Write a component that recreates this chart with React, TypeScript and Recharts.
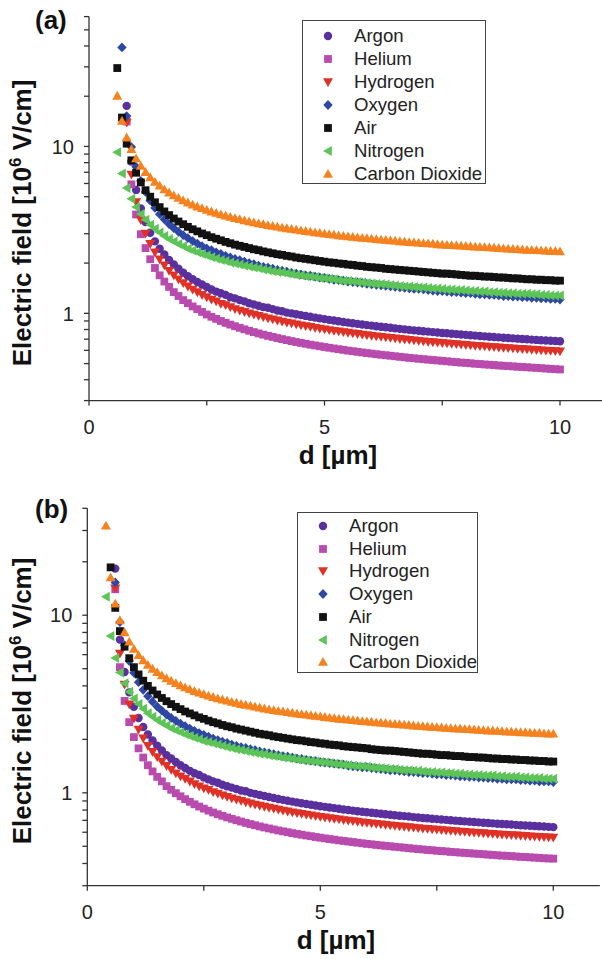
import { ScatterChart, Scatter, XAxis, YAxis, Label } from "recharts";

// gap distances d [µm]
const dGrid = [
  0.4, 0.5, 0.6, 0.7, 0.8, 0.9,
  1.0, 1.1, 1.2, 1.3, 1.4, 1.5, 1.6, 1.7, 1.8, 1.9,
  2.0, 2.1, 2.2, 2.3, 2.4, 2.5, 2.6, 2.7, 2.8, 2.9,
  3.0, 3.1, 3.2, 3.3, 3.4, 3.5, 3.6, 3.7, 3.8, 3.9,
  4.0, 4.1, 4.2, 4.3, 4.4, 4.5, 4.6, 4.7, 4.8, 4.9,
  5.0, 5.1, 5.2, 5.3, 5.4, 5.5, 5.6, 5.7, 5.8, 5.9,
  6.0, 6.1, 6.2, 6.3, 6.4, 6.5, 6.6, 6.7, 6.8, 6.9,
  7.0, 7.1, 7.2, 7.3, 7.4, 7.5, 7.6, 7.7, 7.8, 7.9,
  8.0, 8.1, 8.2, 8.3, 8.4, 8.5, 8.6, 8.7, 8.8, 8.9,
  9.0, 9.1, 9.2, 9.3, 9.4, 9.5, 9.6, 9.7, 9.8, 9.9,
  10.0,
];

const gases = ["Argon", "Helium", "Hydrogen", "Oxygen", "Air", "Nitrogen", "Carbon Dioxide"];
const colors = ["#5a2f9e", "#b94bae", "#e03127", "#2e46a6", "#111111", "#5dc457", "#f5821f"];
const markers = ["circle", "square", "down", "diamond", "square", "left", "up"];

// ---- panel (a), field in 10^6 V/cm ----
const startA = [0.8, 0.8, 0.8, 0.7, 0.6, 0.6, 0.6];

const argonA = [
  17.5, 8.13,
  5.49, 4.25, 3.52, 3.04, 2.70, 2.44, 2.25, 2.09, 1.96, 1.85,
  1.75, 1.67, 1.60, 1.54, 1.49, 1.44, 1.39, 1.35, 1.32, 1.29,
  1.25, 1.23, 1.20, 1.18, 1.15, 1.13, 1.11, 1.09, 1.08, 1.06,
  1.04, 1.03, 1.01, 1.00, 0.988, 0.976, 0.965, 0.954, 0.943, 0.933,
  0.923, 0.914, 0.905, 0.896, 0.888, 0.880, 0.872, 0.865, 0.857, 0.850,
  0.844, 0.837, 0.831, 0.825, 0.819, 0.813, 0.807, 0.802, 0.796, 0.791,
  0.786, 0.781, 0.777, 0.772, 0.768, 0.763, 0.759, 0.755, 0.751, 0.747,
  0.743, 0.739, 0.735, 0.731, 0.728, 0.724, 0.721, 0.718, 0.714, 0.711,
  0.708, 0.705, 0.702, 0.699, 0.696, 0.693, 0.690, 0.688, 0.685, 0.682,
  0.680,
];
const heliumA = [
  14.1, 5.93,
  3.91, 2.98, 2.46, 2.11, 1.87, 1.69, 1.55, 1.44, 1.34, 1.27,
  1.20, 1.15, 1.10, 1.06, 1.02, 0.984, 0.953, 0.926, 0.900, 0.877,
  0.856, 0.837, 0.819, 0.802, 0.786, 0.772, 0.758, 0.745, 0.733, 0.722,
  0.711, 0.701, 0.691, 0.682, 0.673, 0.665, 0.657, 0.649, 0.642, 0.635,
  0.628, 0.622, 0.616, 0.610, 0.604, 0.598, 0.593, 0.588, 0.583, 0.578,
  0.574, 0.569, 0.565, 0.561, 0.557, 0.553, 0.549, 0.545, 0.541, 0.538,
  0.534, 0.531, 0.528, 0.525, 0.522, 0.519, 0.516, 0.513, 0.510, 0.507,
  0.505, 0.502, 0.499, 0.497, 0.494, 0.492, 0.490, 0.487, 0.485, 0.483,
  0.481, 0.479, 0.477, 0.475, 0.473, 0.471, 0.469, 0.467, 0.465, 0.463,
  0.461,
];
const hydrogenA = [
  13.9, 6.78,
  4.65, 3.62, 3.01, 2.61, 2.32, 2.11, 1.94, 1.80, 1.69, 1.60,
  1.52, 1.45, 1.39, 1.34, 1.29, 1.25, 1.21, 1.18, 1.14, 1.12,
  1.09, 1.06, 1.04, 1.02, 1.00, 0.983, 0.966, 0.950, 0.935, 0.921,
  0.907, 0.894, 0.882, 0.871, 0.860, 0.849, 0.839, 0.830, 0.820, 0.812,
  0.803, 0.795, 0.787, 0.780, 0.773, 0.766, 0.759, 0.753, 0.746, 0.740,
  0.734, 0.729, 0.723, 0.718, 0.713, 0.708, 0.703, 0.698, 0.694, 0.689,
  0.685, 0.680, 0.676, 0.672, 0.668, 0.665, 0.661, 0.657, 0.654, 0.650,
  0.647, 0.644, 0.640, 0.637, 0.634, 0.631, 0.628, 0.625, 0.622, 0.620,
  0.617, 0.614, 0.612, 0.609, 0.606, 0.604, 0.601, 0.599, 0.597, 0.594,
  0.592,
];
const oxygenA = [
  39.2, 15.2, 9.91,
  7.55, 6.21, 5.34, 4.73, 4.28, 3.93, 3.66, 3.43, 3.24, 3.08,
  2.94, 2.82, 2.71, 2.62, 2.53, 2.45, 2.39, 2.32, 2.27, 2.21,
  2.16, 2.12, 2.08, 2.04, 2.00, 1.97, 1.93, 1.90, 1.88, 1.85,
  1.82, 1.80, 1.78, 1.75, 1.73, 1.71, 1.69, 1.68, 1.66, 1.64,
  1.63, 1.61, 1.59, 1.58, 1.57, 1.55, 1.54, 1.53, 1.52, 1.50,
  1.49, 1.48, 1.47, 1.46, 1.45, 1.44, 1.43, 1.42, 1.41, 1.40,
  1.40, 1.39, 1.38, 1.37, 1.36, 1.36, 1.35, 1.34, 1.34, 1.33,
  1.32, 1.32, 1.31, 1.30, 1.30, 1.29, 1.29, 1.28, 1.27, 1.27,
  1.26, 1.26, 1.25, 1.25, 1.24, 1.24, 1.23, 1.23, 1.22, 1.22,
  1.21,
];
const airA = [
  29.5, 14.9, 10.4, 8.26,
  6.96, 6.09, 5.47, 5.00, 4.63, 4.33, 4.08, 3.88, 3.70, 3.55,
  3.42, 3.30, 3.19, 3.10, 3.01, 2.94, 2.86, 2.80, 2.74, 2.68,
  2.63, 2.58, 2.54, 2.50, 2.46, 2.42, 2.39, 2.35, 2.32, 2.29,
  2.26, 2.24, 2.21, 2.19, 2.16, 2.14, 2.12, 2.10, 2.08, 2.06,
  2.04, 2.02, 2.01, 1.99, 1.98, 1.96, 1.95, 1.93, 1.92, 1.90,
  1.89, 1.88, 1.87, 1.85, 1.84, 1.83, 1.82, 1.81, 1.80, 1.79,
  1.78, 1.77, 1.76, 1.75, 1.74, 1.73, 1.73, 1.72, 1.71, 1.70,
  1.69, 1.68, 1.68, 1.67, 1.66, 1.66, 1.65, 1.64, 1.64, 1.63,
  1.62, 1.62, 1.61, 1.60, 1.60, 1.59, 1.59, 1.58, 1.58, 1.57,
  1.57,
];
const nitrogenA = [
  9.23, 6.88, 5.63, 4.86,
  4.33, 3.94, 3.64, 3.40, 3.21, 3.05, 2.91, 2.79, 2.69, 2.60,
  2.52, 2.44, 2.38, 2.32, 2.27, 2.22, 2.17, 2.13, 2.09, 2.06,
  2.02, 1.99, 1.96, 1.93, 1.91, 1.88, 1.86, 1.83, 1.81, 1.79,
  1.77, 1.76, 1.74, 1.72, 1.70, 1.69, 1.67, 1.66, 1.65, 1.63,
  1.62, 1.61, 1.60, 1.58, 1.57, 1.56, 1.55, 1.54, 1.53, 1.52,
  1.51, 1.50, 1.50, 1.49, 1.48, 1.47, 1.46, 1.45, 1.45, 1.44,
  1.43, 1.43, 1.42, 1.41, 1.41, 1.40, 1.39, 1.39, 1.38, 1.38,
  1.37, 1.36, 1.36, 1.35, 1.35, 1.34, 1.34, 1.33, 1.33, 1.32,
  1.32, 1.31, 1.31, 1.31, 1.30, 1.30, 1.29, 1.29, 1.28, 1.28,
  1.28,
];
const co2A = [
  20.1, 14.2, 11.3, 9.62,
  8.47, 7.65, 7.02, 6.53, 6.13, 5.81, 5.53, 5.29, 5.09, 4.91,
  4.75, 4.61, 4.48, 4.36, 4.26, 4.16, 4.07, 3.99, 3.91, 3.84,
  3.78, 3.71, 3.66, 3.60, 3.55, 3.50, 3.46, 3.42, 3.37, 3.34,
  3.30, 3.26, 3.23, 3.20, 3.17, 3.14, 3.11, 3.08, 3.05, 3.03,
  3.00, 2.98, 2.96, 2.93, 2.91, 2.89, 2.87, 2.85, 2.83, 2.82,
  2.80, 2.78, 2.76, 2.75, 2.73, 2.72, 2.70, 2.69, 2.67, 2.66,
  2.65, 2.63, 2.62, 2.61, 2.59, 2.58, 2.57, 2.56, 2.55, 2.54,
  2.53, 2.52, 2.51, 2.50, 2.49, 2.48, 2.47, 2.46, 2.45, 2.44,
  2.43, 2.42, 2.41, 2.40, 2.40, 2.39, 2.38, 2.37, 2.36, 2.36,
  2.35,
];

// ---- panel (b) ----
const startB = [0.6, 0.6, 0.6, 0.6, 0.5, 0.4, 0.4];

const argonB = [
  18.3, 7.29, 4.79, 3.68,
  3.05, 2.64, 2.35, 2.13, 1.97, 1.84, 1.73, 1.63, 1.56, 1.49,
  1.43, 1.38, 1.33, 1.29, 1.26, 1.22, 1.19, 1.16, 1.14, 1.11,
  1.09, 1.07, 1.05, 1.03, 1.02, 1.00, 0.987, 0.973, 0.960, 0.947,
  0.935, 0.923, 0.913, 0.902, 0.892, 0.883, 0.874, 0.865, 0.857, 0.849,
  0.841, 0.834, 0.826, 0.820, 0.813, 0.806, 0.800, 0.794, 0.788, 0.783,
  0.777, 0.772, 0.767, 0.762, 0.757, 0.752, 0.748, 0.743, 0.739, 0.735,
  0.730, 0.726, 0.722, 0.719, 0.715, 0.711, 0.708, 0.704, 0.701, 0.697,
  0.694, 0.691, 0.688, 0.685, 0.682, 0.679, 0.676, 0.673, 0.670, 0.668,
  0.665, 0.663, 0.660, 0.657, 0.655, 0.653, 0.650, 0.648, 0.646, 0.643,
  0.641,
];
const heliumB = [
  14.0, 5.10, 3.29, 2.50,
  2.06, 1.78, 1.58, 1.43, 1.32, 1.23, 1.16, 1.09, 1.04, 0.995,
  0.956, 0.921, 0.890, 0.862, 0.837, 0.815, 0.794, 0.775, 0.758, 0.742,
  0.727, 0.714, 0.701, 0.689, 0.677, 0.667, 0.657, 0.647, 0.638, 0.630,
  0.622, 0.614, 0.607, 0.600, 0.593, 0.587, 0.581, 0.575, 0.570, 0.564,
  0.559, 0.554, 0.549, 0.545, 0.540, 0.536, 0.532, 0.528, 0.524, 0.520,
  0.516, 0.513, 0.509, 0.506, 0.503, 0.500, 0.497, 0.494, 0.491, 0.488,
  0.485, 0.482, 0.480, 0.477, 0.475, 0.472, 0.470, 0.468, 0.465, 0.463,
  0.461, 0.459, 0.457, 0.455, 0.453, 0.451, 0.449, 0.447, 0.445, 0.443,
  0.442, 0.440, 0.438, 0.436, 0.435, 0.433, 0.432, 0.430, 0.428, 0.427,
  0.426,
];
const hydrogenB = [
  14.2, 6.08, 4.07, 3.15,
  2.62, 2.27, 2.03, 1.84, 1.70, 1.59, 1.50, 1.42, 1.35, 1.29,
  1.24, 1.20, 1.16, 1.12, 1.09, 1.06, 1.04, 1.01, 0.990, 0.969,
  0.950, 0.933, 0.916, 0.901, 0.886, 0.872, 0.860, 0.847, 0.836, 0.825,
  0.815, 0.805, 0.795, 0.786, 0.778, 0.770, 0.762, 0.754, 0.747, 0.740,
  0.733, 0.727, 0.721, 0.715, 0.709, 0.703, 0.698, 0.693, 0.688, 0.683,
  0.678, 0.673, 0.669, 0.665, 0.660, 0.656, 0.652, 0.648, 0.645, 0.641,
  0.637, 0.634, 0.630, 0.627, 0.624, 0.621, 0.618, 0.615, 0.612, 0.609,
  0.606, 0.603, 0.600, 0.598, 0.595, 0.593, 0.590, 0.588, 0.585, 0.583,
  0.581, 0.578, 0.576, 0.574, 0.572, 0.570, 0.568, 0.566, 0.564, 0.562,
  0.560,
];
const oxygenB = [
  15.3, 9.15, 6.78, 5.52,
  4.74, 4.20, 3.80, 3.50, 3.26, 3.06, 2.90, 2.76, 2.64, 2.54,
  2.45, 2.37, 2.30, 2.23, 2.17, 2.12, 2.07, 2.02, 1.98, 1.94,
  1.91, 1.87, 1.84, 1.81, 1.79, 1.76, 1.74, 1.71, 1.69, 1.67,
  1.65, 1.63, 1.61, 1.60, 1.58, 1.56, 1.55, 1.53, 1.52, 1.51,
  1.49, 1.48, 1.47, 1.46, 1.45, 1.44, 1.42, 1.41, 1.40, 1.39,
  1.39, 1.38, 1.37, 1.36, 1.35, 1.34, 1.34, 1.33, 1.32, 1.31,
  1.31, 1.30, 1.29, 1.29, 1.28, 1.27, 1.27, 1.26, 1.26, 1.25,
  1.24, 1.24, 1.23, 1.23, 1.22, 1.22, 1.21, 1.21, 1.20, 1.20,
  1.19, 1.19, 1.19, 1.18, 1.18, 1.17, 1.17, 1.16, 1.16, 1.16,
  1.15,
];
const airB = [
  18.6, 11.0, 8.14, 6.65, 5.73,
  5.10, 4.64, 4.28, 4.00, 3.77, 3.58, 3.42, 3.28, 3.16, 3.05,
  2.96, 2.87, 2.80, 2.73, 2.66, 2.61, 2.55, 2.50, 2.46, 2.41,
  2.37, 2.34, 2.30, 2.27, 2.24, 2.21, 2.18, 2.15, 2.13, 2.11,
  2.08, 2.06, 2.04, 2.02, 2.00, 1.98, 1.97, 1.95, 1.93, 1.92,
  1.90, 1.89, 1.87, 1.86, 1.85, 1.83, 1.82, 1.81, 1.80, 1.79,
  1.78, 1.76, 1.75, 1.74, 1.73, 1.73, 1.72, 1.71, 1.70, 1.69,
  1.68, 1.67, 1.66, 1.66, 1.65, 1.64, 1.63, 1.63, 1.62, 1.61,
  1.61, 1.60, 1.59, 1.59, 1.58, 1.58, 1.57, 1.56, 1.56, 1.55,
  1.55, 1.54, 1.54, 1.53, 1.53, 1.52, 1.52, 1.51, 1.51, 1.50,
  1.50,
];
const nitrogenB = [
  12.7, 7.63, 5.75, 4.76, 4.14, 3.71,
  3.40, 3.16, 2.97, 2.81, 2.68, 2.57, 2.47, 2.39, 2.31, 2.25,
  2.19, 2.14, 2.09, 2.04, 2.00, 1.96, 1.93, 1.90, 1.87, 1.84,
  1.81, 1.79, 1.76, 1.74, 1.72, 1.70, 1.68, 1.66, 1.65, 1.63,
  1.61, 1.60, 1.58, 1.57, 1.56, 1.54, 1.53, 1.52, 1.51, 1.50,
  1.49, 1.48, 1.47, 1.46, 1.45, 1.44, 1.43, 1.42, 1.41, 1.41,
  1.40, 1.39, 1.38, 1.38, 1.37, 1.36, 1.36, 1.35, 1.34, 1.34,
  1.33, 1.33, 1.32, 1.31, 1.31, 1.30, 1.30, 1.29, 1.29, 1.28,
  1.28, 1.27, 1.27, 1.26, 1.26, 1.25, 1.25, 1.25, 1.24, 1.24,
  1.23, 1.23, 1.23, 1.22, 1.22, 1.21, 1.21, 1.21, 1.20, 1.20,
  1.20,
];
const co2B = [
  31.9, 16.3, 11.6, 9.36, 8.01, 7.10,
  6.45, 5.96, 5.57, 5.25, 4.99, 4.77, 4.58, 4.41, 4.27, 4.14,
  4.02, 3.92, 3.83, 3.74, 3.66, 3.59, 3.52, 3.46, 3.40, 3.35,
  3.30, 3.25, 3.21, 3.16, 3.12, 3.09, 3.05, 3.02, 2.98, 2.95,
  2.92, 2.89, 2.87, 2.84, 2.82, 2.79, 2.77, 2.75, 2.73, 2.71,
  2.69, 2.67, 2.65, 2.63, 2.61, 2.60, 2.58, 2.56, 2.55, 2.53,
  2.52, 2.51, 2.49, 2.48, 2.47, 2.45, 2.44, 2.43, 2.42, 2.41,
  2.39, 2.38, 2.37, 2.36, 2.35, 2.34, 2.33, 2.32, 2.31, 2.30,
  2.30, 2.29, 2.28, 2.27, 2.26, 2.25, 2.24, 2.24, 2.23, 2.22,
  2.21, 2.21, 2.20, 2.19, 2.19, 2.18, 2.17, 2.17, 2.16, 2.15,
  2.15,
];

const seriesA = [argonA, heliumA, hydrogenA, oxygenA, airA, nitrogenA, co2A];
const seriesB = [argonB, heliumB, hydrogenB, oxygenB, airB, nitrogenB, co2B];

const yTicksA = [0.3, 0.4, 0.5, 0.6, 0.7, 0.8, 0.9, 1, 2, 3, 4, 5, 6, 7, 8, 9, 10, 20, 30, 40, 50, 60];
const yTicksB = [0.3, 0.4, 0.5, 0.6, 0.7, 0.8, 0.9, 1, 2, 3, 4, 5, 6, 7, 8, 9, 10, 20, 30, 40];
const xTicks = [0, 2.5, 5, 7.5, 10];

const FONT = "'Liberation Sans', Arial, Helvetica, sans-serif";
const AXIS = "#333";

function toPoints(values: number[], start: number) {
  const first = Math.round((start - dGrid[0]) * 10);
  return values.map((e, i) => ({ d: dGrid[first + i], e }));
}

function Marker({ kind, color, cx, cy }: any) {
  if (cx == null || cy == null) return null;
  if (kind === "circle") return <circle cx={cx} cy={cy} r={4.2} fill={color} />;
  if (kind === "square") return <rect x={cx - 3.9} y={cy - 3.9} width={7.8} height={7.8} fill={color} />;
  let d = "";
  if (kind === "up") d = `M${cx},${cy - 5}L${cx + 5},${cy + 3.8}L${cx - 5},${cy + 3.8}Z`;
  if (kind === "down") d = `M${cx},${cy + 5}L${cx + 5},${cy - 3.8}L${cx - 5},${cy - 3.8}Z`;
  if (kind === "diamond") d = `M${cx},${cy - 4.9}L${cx + 4.7},${cy}L${cx},${cy + 4.9}L${cx - 4.7},${cy}Z`;
  if (kind === "left") d = `M${cx - 5},${cy}L${cx + 3.8},${cy - 5}L${cx + 3.8},${cy + 5}Z`;
  return <path d={d} fill={color} />;
}

function LegendBox({ left, top, width, height, rowTop, rowGap }: any) {
  return (
    <div
      style={{
        position: "absolute",
        left,
        top,
        width,
        height,
        boxSizing: "border-box",
        border: "1.3px solid #444",
        background: "#fff",
        fontFamily: FONT,
        fontSize: 18.6,
        color: "#222",
      }}
    >
      {gases.map((g, i) => (
        <div
          key={g}
          style={{ position: "absolute", left: 0, top: rowTop + i * rowGap - 11, height: 22, lineHeight: "22px", whiteSpace: "nowrap" }}
        >
          <svg width={52} height={22} style={{ position: "absolute", left: 0, top: 0 }}>
            <Marker kind={markers[i]} color={colors[i]} cx={25} cy={11} />
          </svg>
          <span style={{ position: "absolute", left: 51 }}>{g}</span>
        </div>
      ))}
    </div>
  );
}

function Panel({ tag, top, series, starts, yMax, yTicks, yAxisW, plotTop, plotH, xUnit, xAxisH, tagY, yTitleY, xTitleX, xTitleY, legend }: any) {
  const width = yAxisW + 11 * xUnit;
  const height = plotTop + plotH + xAxisH;

  const yTick = (p: any) => {
    const v = p.payload.value;
    if (v !== 1 && v !== 10) return <g />;
    return (
      <text x={p.x} y={p.y} dy="0.36em" textAnchor="end" fontSize={20} fill="#222" fontFamily={FONT}>
        {v}
      </text>
    );
  };
  const xTick = (p: any) => {
    const v = p.payload.value;
    if (v === 2.5 || v === 7.5) return <g />;
    return (
      <text x={p.x} y={p.y} dy="0.71em" textAnchor="middle" fontSize={20} fill="#222" fontFamily={FONT}>
        {v}
      </text>
    );
  };

  return (
    <div style={{ position: "absolute", left: 0, top, width, height }}>
      <ScatterChart width={width} height={height} margin={{ top: plotTop, right: 0, bottom: 0, left: 0 }}>
        <XAxis
          type="number"
          dataKey="d"
          domain={[0, 11]}
          ticks={xTicks}
          interval={0}
          height={xAxisH}
          tickSize={5}
          tickMargin={14}
          tick={xTick}
          axisLine={{ stroke: AXIS, strokeWidth: 1.3 }}
          tickLine={{ stroke: AXIS, strokeWidth: 1.3 }}
        >
          <Label
            content={() => (
              <text x={xTitleX} y={xTitleY} textAnchor="middle" fontSize={26} fontWeight="bold" fill="#111" fontFamily={FONT}>
                d [µm]
              </text>
            )}
          />
        </XAxis>
        <YAxis
          type="number"
          dataKey="e"
          scale="log"
          domain={[0.3, yMax]}
          allowDataOverflow
          ticks={yTicks}
          interval={0}
          width={yAxisW}
          tickSize={5}
          tickMargin={10}
          tick={yTick}
          axisLine={{ stroke: AXIS, strokeWidth: 1.3 }}
          tickLine={{ stroke: AXIS, strokeWidth: 1.3 }}
        >
          <Label
            content={() => (
              <g fontFamily={FONT} fill="#111" fontWeight="bold">
                <text x={35} y={tagY} fontSize={26}>
                  {tag}
                </text>
                <text transform={`translate(31,${yTitleY}) rotate(-90)`} textAnchor="middle" fontSize={26}>
                  Electric field [10
                  <tspan dy={-10} fontSize={17}>
                    6
                  </tspan>
                  <tspan dy={10}> V/cm]</tspan>
                </text>
              </g>
            )}
          />
        </YAxis>
        {series.map((vals: number[], i: number) => (
          <Scatter
            key={gases[i]}
            name={gases[i]}
            data={toPoints(vals, starts[i])}
            isAnimationActive={false}
            shape={(p: any) => <Marker kind={markers[i]} color={colors[i]} cx={p.cx} cy={p.cy} />}
          />
        ))}
      </ScatterChart>
      <LegendBox {...legend} />
    </div>
  );
}

export default function App() {
  return (
    <div
      style={{
        position: "absolute",
        left: 0,
        top: 0,
        width: 602,
        height: 959,
        overflow: "hidden",
        background: "#fff",
      }}
    >
      <Panel
        tag="(a)"
        top={0}
        series={seriesA}
        starts={startA}
        yMax={60}
        yTicks={yTicksA}
        yAxisW={89}
        plotTop={16.6}
        plotH={384}
        xUnit={47.1}
        xAxisH={70}
        tagY={29}
        yTitleY={223}
        xTitleX={338}
        xTitleY={464}
        legend={{ left: 302, top: 20, width: 184, height: 164, rowTop: 15, rowGap: 23 }}
      />
      <Panel
        tag="(b)"
        top={480}
        series={seriesB}
        starts={startB}
        yMax={40}
        yTicks={yTicksB}
        yAxisW={87.3}
        plotTop={28.3}
        plotH={377.4}
        xUnit={46.6}
        xAxisH={73}
        tagY={38}
        yTitleY={221}
        xTitleX={336}
        xTitleY={469}
        legend={{ left: 297, top: 32, width: 181, height: 161, rowTop: 13, rowGap: 22.7 }}
      />
    </div>
  );
}
